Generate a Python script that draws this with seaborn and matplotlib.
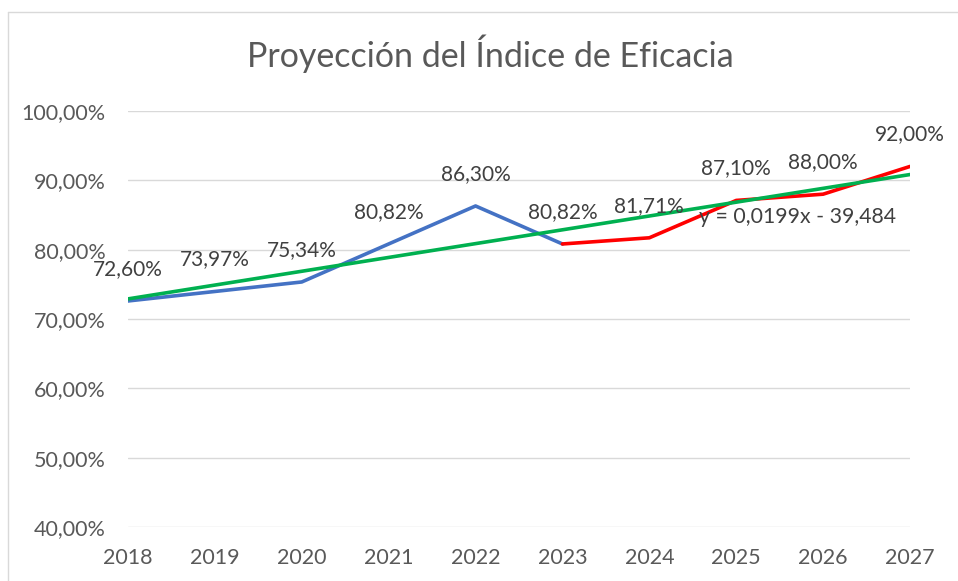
import matplotlib.pyplot as plt
from matplotlib.lines import Line2D
from matplotlib.ticker import FuncFormatter
import seaborn as sns
import pandas as pd

years = [2018, 2019, 2020, 2021, 2022, 2023, 2024, 2025, 2026, 2027]
efficacy = [72.60, 73.97, 75.34, 80.82, 86.30, 80.82, 81.71, 87.10, 88.00, 92.00]
split_year = 2023  # from here the projection is drawn in red
trend_label = "y = 0,0199x - 39,484"

df = pd.DataFrame({"year": years, "value": efficacy})
hist = df[df.year <= split_year]
proj = df[df.year >= split_year]

sns.set_style("white")
plt.rcParams["font.family"] = ["Lato", "DejaVu Sans"]
grey = "#595959"

fig = plt.figure(figsize=(9.58, 5.81), dpi=100)
ax = fig.add_axes([0.1336, 0.0929, 0.8163, 0.7161])

sns.lineplot(data=hist, x="year", y="value", color="#4472C4", linewidth=2.6, ax=ax)
sns.lineplot(data=proj, x="year", y="value", color="#FF0000", linewidth=2.6, ax=ax)
# linear trendline over the whole series, like the excel one
sns.regplot(data=df, x="year", y="value", scatter=False, ci=None,
            line_kws={"color": "#00B050", "linewidth": 2.6}, ax=ax)

for x, y in zip(years, efficacy):
    ax.annotate(f"{y:.2f}%".replace(".", ","), (x, y), xytext=(0, 23),
                textcoords="offset points", ha="center", va="center",
                fontsize=15, color="#404040")

ax.text(2025.7, 84.7, trend_label, ha="center", va="center", fontsize=15.3, color="#404040")

ax.set_xlim(2018, 2027)
ax.set_ylim(40, 100)
ax.set_yticks(range(40, 101, 10))
ax.set_xticks(years)
ax.yaxis.set_major_formatter(FuncFormatter(lambda v, p: f"{v:.2f}%".replace(".", ",")))
ax.grid(axis="y", color="#d9d9d9", linewidth=1)
ax.tick_params(axis="both", length=0, labelsize=15.5, labelcolor=grey)
ax.tick_params(axis="y", pad=16)
ax.tick_params(axis="x", pad=15)
for s in ax.spines.values():
    s.set_visible(False)
ax.set_xlabel("")
ax.set_ylabel("")

fig.suptitle("Proyección del Índice de Eficacia", x=0.512, y=0.94, fontsize=24.5, color=grey)

# chart frame (left and top edges visible in the crop)
fig.add_artist(Line2D([8 / 958, 8 / 958], [0, 1 - 12 / 581], transform=fig.transFigure, color="#d9d9d9", linewidth=1))
fig.add_artist(Line2D([8 / 958, 1], [1 - 12 / 581, 1 - 12 / 581], transform=fig.transFigure, color="#d9d9d9", linewidth=1))

fig.savefig("out.png", dpi=100)
